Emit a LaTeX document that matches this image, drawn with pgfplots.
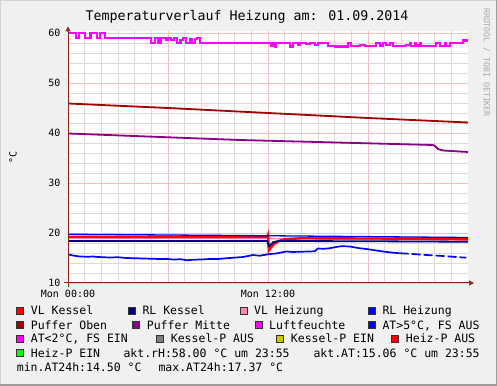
\documentclass[border=0pt]{standalone}
\usepackage{pgfplots}
\pgfplotsset{compat=1.18}
\usepackage{fontspec}
\setmainfont{DejaVu Sans Mono}
\usetikzlibrary{arrows.meta}
\definecolor{bgc}{HTML}{F0F0F0}
\definecolor{frameD}{HTML}{9C9C9C}
\definecolor{frameL}{HTML}{D4D4D4}
\definecolor{mgrid}{HTML}{F6BEBE}
\definecolor{ngrid}{HTML}{DADADA}
\definecolor{axc}{HTML}{962020}
\definecolor{cVLK}{HTML}{FF0000}
\definecolor{cRLK}{HTML}{000080}
\definecolor{cVLH}{HTML}{FF88A8}
\definecolor{cRLH}{HTML}{0000FF}
\definecolor{cPO}{HTML}{A00000}
\definecolor{cPM}{HTML}{880088}
\definecolor{cLF}{HTML}{FF00FF}
\definecolor{cAT}{HTML}{0000FF}
\definecolor{cATlo}{HTML}{FF00FF}
\definecolor{cKA}{HTML}{808080}
\definecolor{cKE}{HTML}{C8C800}
\definecolor{cHA}{HTML}{FF0000}
\definecolor{cHE}{HTML}{00FF00}
\definecolor{rrdgray}{HTML}{A8A8A8}
\newcommand{\leg}[4]{%
  \fill[#3] (#1,#2+0.8) rectangle ++(7,7);
  \draw[black!80,line width=0.7pt] (#1,#2+0.8) rectangle ++(7,7);
  \node[anchor=base west,inner sep=0pt,font=\fontsize{11.5}{13}\selectfont] at (#1+14,#2) {#4};}
\newcommand{\legt}[3]{%
  \node[anchor=base west,inner sep=0pt,font=\fontsize{11.5}{13}\selectfont] at (#1,#2) {#3};}
\begin{document}
\begin{tikzpicture}[x=1pt,y=1pt]
\useasboundingbox (0,0) rectangle (497,385);
\fill[bgc] (0,0) rectangle (497,385);
\draw[frameL,line width=2pt] (0,0) -- (0,385) -- (497,385);
\draw[frameD,line width=2pt] (0,0) -- (497,0) -- (497,385);
\begin{axis}[
  at={(68pt,102pt)}, anchor=south west,
  scale only axis, width=400pt, height=251.5pt,
  xmin=0, xmax=24, ymin=10, ymax=60.3,
  axis background/.style={fill=white},
  axis line style={draw=none},
  major tick length=0pt, minor tick length=0pt,
  tick style={draw=none},
  xtick={0,6,12,18},
  xticklabels={Mon 00:00,,Mon 12:00,},
  minor xtick={1,2,3,4,5,7,8,9,10,11,13,14,15,16,17,19,20,21,22,23},
  ytick={10,20,30,40,50,60},
  minor ytick={12,14,16,18,22,24,26,28,32,34,36,38,42,44,46,48,52,54,56,58},
  grid=both,
  major grid style={color=mgrid,line width=0.8pt},
  minor grid style={color=ngrid,line width=0.8pt},
  /pgf/number format/assume math mode=true,
  xticklabel style={font=\fontsize{10}{12}\selectfont, yshift=-4pt},
  yticklabel style={font=\fontsize{10}{12}\selectfont, xshift=-4pt},
  ylabel={°C},
  every axis y label/.style={at={(axis description cs:0,0.5)}, xshift=-55pt, rotate=90, anchor=center, font=\fontsize{10}{12}\selectfont},
  clip=false,
]
% VL Heizung (mostly hidden under VL Kessel)
\addplot[cVLH, line width=1.6pt] coordinates {(0,18.95) (12,18.9) (24,18.6)};
% VL Kessel
\addplot[cVLK, line width=2.4pt] coordinates {
(0,19.25) (6,19.22) (11.95,19.2) (12.0,19.6) (12.05,16.5) (12.2,17.2) (12.4,17.9) (12.7,18.45) (13.0,18.75) (14,18.95) (18,18.9) (22,18.85) (24,18.75)};
% RL Kessel
\addplot[cRLK, line width=1.8pt] coordinates {
(0,18.4) (11.95,18.38) (12.05,17.4) (12.15,17.6) (12.3,18.15) (12.6,18.4) (18,18.35) (24,18.25)};
% RL Heizung
\addplot[cRLH, line width=1.3pt] coordinates {(0,19.75) (12,19.45) (24,19.1)};
% Puffer Oben
\addplot[cPO, line width=1.8pt] coordinates {(0,45.9) (6,45.0) (12,44.0) (18,43.0) (24,42.1)};
% Puffer Mitte
\addplot[cPM, line width=1.8pt] coordinates {
(0,39.9) (10.3,38.6) (21.9,37.6) (22.05,37.3) (22.2,36.8) (22.5,36.5) (23,36.4) (24,36.2)};
% Luftfeuchte
\addplot[cLF, line width=2.2pt, const plot] coordinates {
(0,60) (0.5,59) (0.65,60) (1.0,59) (1.35,60) (1.75,59) (1.9,60) (2.2,59)
(5.0,58) (5.2,59) (5.4,58) (5.55,59) (5.9,58.6) (6.0,59) (6.2,58.6) (6.35,59)
(6.55,58) (6.75,58.6) (6.9,59) (7.1,58) (7.3,58.7) (7.45,58) (7.6,58.8) (7.75,59) (7.9,58)
(12.2,57.5) (12.3,58) (12.4,57.3) (12.5,58) (13.3,57.3) (13.5,58) (13.8,57.7) (13.9,58)
(14.3,57.8) (14.5,58) (14.8,57.6) (15.0,58) (15.6,57.4) (16.0,57.3) (16.8,58) (17.0,57.4)
(17.5,57.6) (17.8,57.4) (18.5,58) (18.7,57.5) (18.9,58) (19.1,57.6) (19.3,58) (19.5,57.4)
(20.3,57.6) (20.5,58) (20.6,57.4) (20.8,58) (20.9,57.5) (21.1,58) (21.2,57.4) (22.1,58)
(22.3,57.4) (22.6,58) (22.7,57.4) (22.9,58) (23.7,58.5) (24,58.5)};
% AT
\addplot[cAT, line width=1.7pt] coordinates {
(0,15.73) (0.3,15.5) (0.7,15.3) (1.2,15.25) (1.5,15.3) (1.8,15.2) (2.5,15.1) (3.0,15.15) (3.5,15.0)
(4.0,14.95) (4.5,14.9) (5.0,14.85) (5.5,14.8) (6.0,14.8) (6.3,14.7) (6.8,14.75) (7.1,14.55)
(7.5,14.65) (8.0,14.7) (8.5,14.8) (9.0,14.8) (9.5,14.95) (9.9,15.05) (10.5,15.2) (11.1,15.6)
(11.5,15.45) (12.1,15.8) (12.5,15.9) (13.1,16.3) (13.5,16.2) (13.9,16.25) (14.5,16.3) (14.8,16.35)
(15.0,16.9) (15.3,16.85) (15.6,16.9) (16.0,17.15) (16.4,17.37) (16.9,17.3) (17.5,16.95) (17.9,16.8)
(18.3,16.6) (18.9,16.3) (19.5,16.06) (19.9,15.95)};
\addplot[cAT, line width=1.7pt, dash pattern=on 9pt off 3pt] coordinates {
(19.9,15.95) (20.5,15.85) (21.5,15.6) (22.5,15.4) (23.5,15.15) (23.9,15.06)};
\end{axis}
% axes with arrows
\draw[axc,line width=1pt,-{Triangle[length=5pt,width=5pt]}] (64,102) -- (474,102);
\draw[axc,line width=1pt,-{Triangle[length=5pt,width=5pt]}] (68,98) -- (68,358.5);
% title
\node[font=\fontsize{13.3}{15}\selectfont] at (247,368) {Temperaturverlauf Heizung am: 01.09.2014};
% rrdtool
\node[rotate=-90,text=rrdgray,font=\fontsize{8.2}{9}\selectfont] at (486.5,322.5) {RRDTOOL / TOBI OETIKER};
% legend
\leg{16.7}{70}{cVLK}{VL Kessel}
\leg{128.3}{70}{cRLK}{RL Kessel}
\leg{240}{70}{cVLH}{VL Heizung}
\leg{368.3}{70}{cRLH}{RL Heizung}
\leg{16.7}{56}{cPO}{Puffer Oben}
\leg{132.7}{56}{cPM}{Puffer Mitte}
\leg{255}{56}{cLF}{Luftfeuchte}
\leg{368.3}{56}{cAT}{AT>5°C, FS AUS}
\leg{16.7}{42}{cATlo}{AT<2°C, FS EIN}
\leg{156.7}{42}{cKA}{Kessel-P AUS}
\leg{276.7}{42}{cKE}{Kessel-P EIN}
\leg{391.7}{42}{cHA}{Heiz-P AUS}
\leg{16.7}{28}{cHE}{Heiz-P EIN}
\legt{123.3}{28}{akt.rH:58.00 °C um 23:55}
\legt{313.3}{28}{akt.AT:15.06 °C um 23:55}
\legt{16.7}{14}{min.AT24h:14.50 °C}
\legt{158.3}{14}{max.AT24h:17.37 °C}
\end{tikzpicture}
\end{document}
